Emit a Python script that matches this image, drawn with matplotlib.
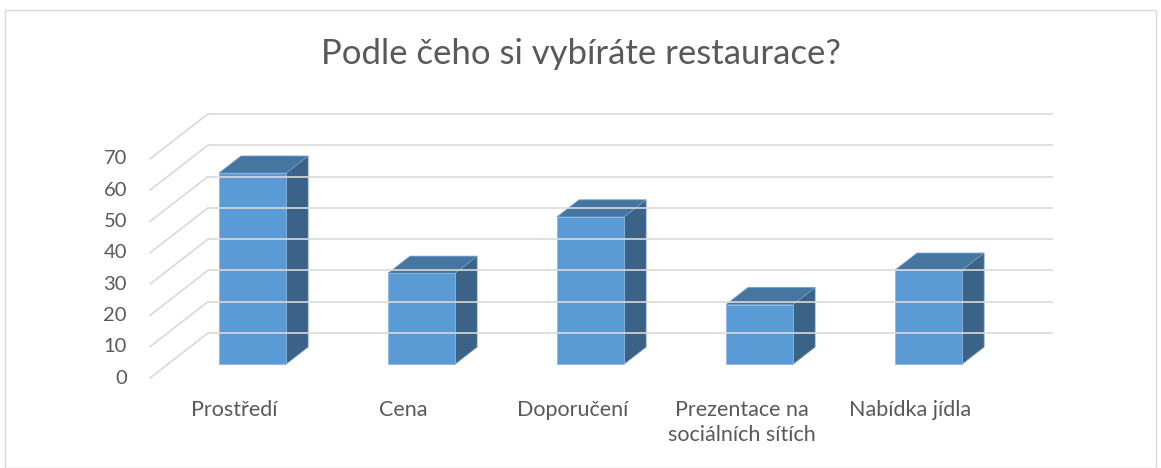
import matplotlib
matplotlib.use("Agg")
import matplotlib.pyplot as plt
from matplotlib.patches import Polygon, Rectangle

# data
categories = ["Prostředí", "Cena", "Doporučení", "Prezentace na\nsociálních sítích", "Nabídka jídla"]
values = [61, 29, 47, 19, 30]
y_ticks = [0, 10, 20, 30, 40, 50, 60, 70]
title = "Podle čeho si vybíráte restaurace?"

TEXT = "#595959"
GRID = "#d9d9d9"
FRONT = "#5b9bd5"
TOP = "#4575a1"
SIDE = "#3a6387"

W, H = 1161, 468
fig = plt.figure(figsize=(W / 100, H / 100), dpi=100)
plt.rcParams['font.family'] = ['Lato', 'DejaVu Sans']

# chart border
fig.patches.append(Rectangle((5 / W, 0), 1151 / W, 458 / H, transform=fig.transFigure,
                             fill=False, edgecolor=GRID, linewidth=1.0))

fig.text(0.5, 1 - 54 / H, title, ha='center', va='center', fontsize=25,
         color=TEXT)

# plot area on the front plane of the floor
px_cat = 169.0
px_val = 3.13
ax = fig.add_axes([150 / W, 90 / H, 5 * px_cat / W, 70 * px_val / H])
ax.set_xlim(-0.5, 4.5)
ax.set_ylim(0, 70)
ax.axis('off')

# depth of the floor in data units
ddx = 58 / px_cat
ddy = 45 / px_val
x0, x1 = -0.5, len(categories) - 0.5

# back wall and side wall gridlines
for v in y_ticks:
    ax.plot([x0 + ddx, x1 + ddx], [v + ddy, v + ddy], color=GRID, lw=1.2,
            clip_on=False, solid_capstyle='butt')
    ax.plot([x0, x0 + ddx], [v, v + ddy], color=GRID, lw=1.2, clip_on=False)
    ax.text(x0 - 23 / px_cat, v, str(v), ha='right', va='center', fontsize=14.5,
            color=TEXT)

# 3d columns
bw = 67 / px_cat
d0, d1 = 0.31, 0.69
for i, v in enumerate(values):
    xl = i - bw / 2 + d0 * ddx
    xr = xl + bw
    yb = d0 * ddy
    yt = v + yb
    sx = (d1 - d0) * ddx
    sy = (d1 - d0) * ddy
    side = Polygon([(xr, yb), (xr, yt), (xr + sx, yt + sy), (xr + sx, yb + sy)],
                   closed=True, facecolor=SIDE, edgecolor='#5a86b0', lw=0.6, clip_on=False)
    top = Polygon([(xl, yt), (xr, yt), (xr + sx, yt + sy), (xl + sx, yt + sy)],
                  closed=True, facecolor=TOP, edgecolor='#6f9cc8', lw=0.6, clip_on=False)
    front = Rectangle((xl, yb), bw, v, facecolor=FRONT, edgecolor='#8db7e0', lw=0.6,
                      clip_on=False)
    for p in (side, top, front):
        ax.add_patch(p)

# category labels
for i, c in enumerate(categories):
    ax.text(i, -22 / px_val, c, ha='center', va='top', fontsize=15.5, color=TEXT,
            linespacing=1.3)

fig.savefig("out.png", dpi=100)
